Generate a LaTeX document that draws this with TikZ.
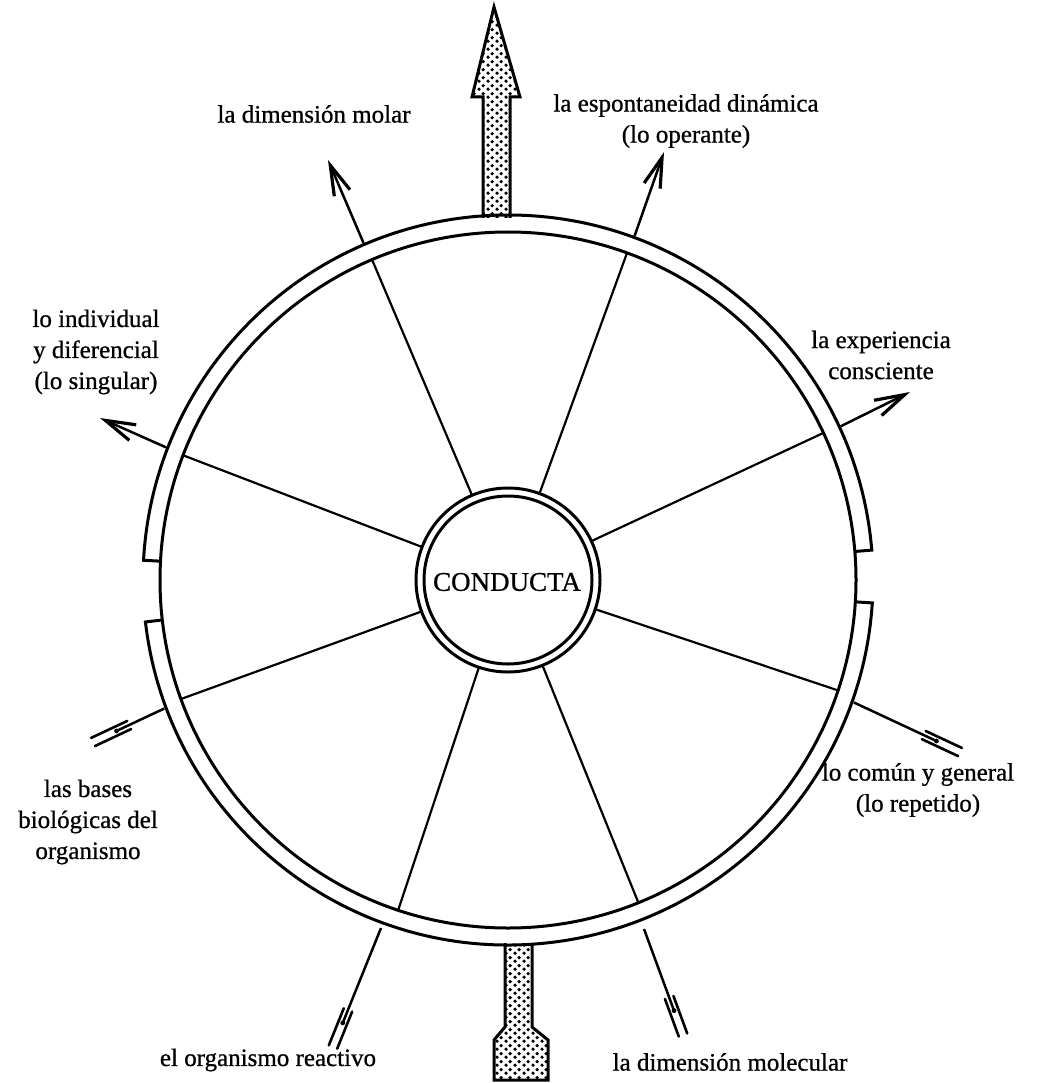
\documentclass[tikz,border=0pt]{standalone}
\usepackage{fontspec}
\setmainfont{Liberation Serif}[RawFeature={embolden=0.8}]
\usetikzlibrary{arrows.meta,calc,patterns.meta}

\tikzdeclarepattern{
  name=bigdots,
  type=uncolored,
  bounding box={(0pt,0pt) and (9pt,8pt)},
  tile size={(9pt,8pt)},
  code={
    \fill (2.25pt,2pt) circle (2pt);
    \fill (6.75pt,6pt) circle (2pt);
  }
}

\tikzset{
  ringline/.style={line width=3pt},
  spoke/.style={line width=2.2pt},
  outarrow/.style={line width=2.5pt, line cap=round,
    -{Straight Barb[length=30pt,width=17pt,line width=3.2pt]}},
  inline/.style={line width=2.5pt},
  fletchline/.style={line width=2.6pt, line cap=round},
  lbl/.style={font=\fontsize{25}{31}\selectfont, align=center, inner sep=0pt},
  bigarrow/.style={line width=3pt, line join=miter, pattern=bigdots, pattern color=black},
}

\newcommand\fletchmark[2]{% #1 = end, #2 = start
  \draw[fletchline] ($(#1)!0pt!(#2)!4.5pt!90:(#2)$) -- ($(#1)!40pt!(#2)!4.5pt!90:(#2)$);
  \draw[fletchline] ($(#1)!0pt!(#2)!4.5pt!-90:(#2)$) -- ($(#1)!40pt!(#2)!4.5pt!-90:(#2)$);
  \fill ($(#1)!26pt!(#2)$) circle (2.4pt);
}

\begin{document}
\begin{tikzpicture}[x=1pt,y=1pt]
\useasboundingbox (0,0) rectangle (1050,-1083);
\coordinate (C) at (508,-580);

% big top arrow
\filldraw[bigarrow] (483,-218) -- (483,-97) -- (472,-97) -- (494,-7) -- (520,-97) -- (510,-97) -- (510,-218);
% big bottom arrow
\filldraw[bigarrow] (505,-943) -- (505,-1027) -- (494,-1040) -- (494,-1080) -- (548,-1080) -- (548,-1040) -- (532,-1027) -- (532,-943);

% ring
\draw[ringline] (C) circle (348pt);
\draw[ringline] ($(C)+(4.7:365pt)$) arc[start angle=4.7, end angle=176.9, radius=365pt];
\draw[ringline] ($(C)+(186.6:365pt)$) arc[start angle=186.6, end angle=356.4, radius=365pt];
\draw[ringline] ($(C)+(4.7:366.5pt)$) -- ($(C)+(4.7:348pt)$);
\draw[ringline] ($(C)+(176.9:366.5pt)$) -- ($(C)+(176.9:348pt)$);
\draw[ringline] ($(C)+(186.6:366.5pt)$) -- ($(C)+(186.6:348pt)$);
\draw[ringline] ($(C)+(356.4:366.5pt)$) -- ($(C)+(356.4:348pt)$);

% centre
\draw[ringline, fill=white] (C) circle (92pt);
\draw[ringline] (C) circle (84pt);
\node[font=\fontsize{27}{30}\selectfont, inner sep=0pt] (conducta) at (507,-582) {CONDUCTA};

% spokes
\foreach \a [count=\i] in {113,70,25,-18.5,159,200,251.6,292} {
  \coordinate (si\i) at ($(C)+(\a:93pt)$);
  \coordinate (so\i) at ($(C)+(\a:347pt)$);
  \draw[spoke] (si\i) -- (so\i);
}

% outward arrows
\coordinate (a1s) at ($(C)+(113.2:367pt)$);
\coordinate (a1e) at (328,-160);
\coordinate (a2s) at ($(C)+(69.8:367pt)$);
\coordinate (a2e) at (664,-152);
\coordinate (a3s) at ($(C)+(24.8:367pt)$);
\coordinate (a3e) at (910,-392);
\coordinate (a4s) at ($(C)+(158.8:367pt)$);
\coordinate (a4e) at (100,-418);
\draw[outarrow] (a1s) -- (a1e);
\draw[outarrow] (a2s) -- (a2e);
\draw[outarrow] (a3s) -- (a3e);
\draw[outarrow] (a4s) -- (a4e);

% inward arrows (tails)
\coordinate (b1s) at ($(C)+(-19.5:367pt)$);
\coordinate (b1e) at (960,-752);
\coordinate (b2s) at ($(C)+(200.5:367pt)$);
\coordinate (b2e) at (93,-742);
\coordinate (b3s) at (381,-928);
\coordinate (b3e) at (333,-1047);
\coordinate (b4s) at (644,-929);
\coordinate (b4e) at (683,-1035);
\foreach \s/\e in {b1s/b1e,b2s/b2e,b3s/b3e,b4s/b4e} {
  \draw[inline] (\s) -- ($(\e)!26pt!(\s)$);
  \fletchmark{\e}{\s}
}

% labels
\node[lbl] (l1) at (314,-114) {la dimensión molar};
\node[lbl] (l2) at (686,-121) {la espontaneidad dinámica\\(lo operante)};
\node[lbl] (l3) at (881,-355) {la experiencia\\consciente};
\node[lbl] (l4) at (96,-352) {lo individual\\y diferencial\\(lo singular)};
\node[lbl] (l5) at (918,-790) {lo común y general\\(lo repetido)};
\node[lbl] (l6) at (88,-822) {las bases\\biológicas del\\organismo};
\node[lbl] (l7) at (268,-1060) {el organismo reactivo};
\node[lbl] (l8) at (730,-1062) {la dimensión molecular};
\end{tikzpicture}
\end{document}
